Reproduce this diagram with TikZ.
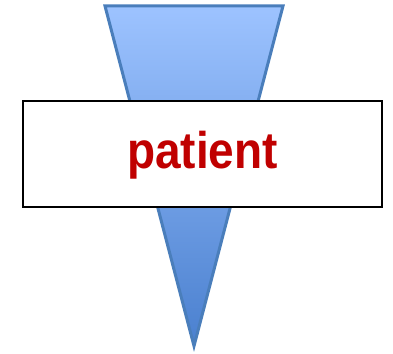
\documentclass[tikz,border=0pt]{standalone}
\usepackage{fontspec}
\setmainfont{Liberation Sans}
\usepackage{graphicx}
\definecolor{trilight}{HTML}{9DC3FF}
\definecolor{tridark}{HTML}{4A80CF}
\definecolor{triborder}{HTML}{4A7EBB}
\definecolor{txtred}{HTML}{C00000}
\tikzset{
  funnel/.style={draw=triborder, line width=3pt, line join=miter, top color=trilight, bottom color=tridark},
  labelbox/.style={draw=black, line width=2pt, fill=white},
  labeltext/.style={text=txtred, font=\fontsize{46}{50}\selectfont\bfseries, inner sep=0pt, anchor=base}
}
\begin{document}
\begin{tikzpicture}[x=1pt, y=-1pt]
\useasboundingbox (0,0) rectangle (393,353);
\coordinate (tl) at (105,6);
\coordinate (tr) at (283,6);
\coordinate (tip) at (194,346);
\path[funnel] (tl) -- (tr) -- (tip) -- cycle;
\coordinate (bl) at (23,101);
\coordinate (br) at (382,207);
\path[labelbox] (bl) rectangle (br);
\node[labeltext] (lbl) at (202.5,168.5) {\scalebox{1}[1.12]{patient}};
\end{tikzpicture}
\end{document}
